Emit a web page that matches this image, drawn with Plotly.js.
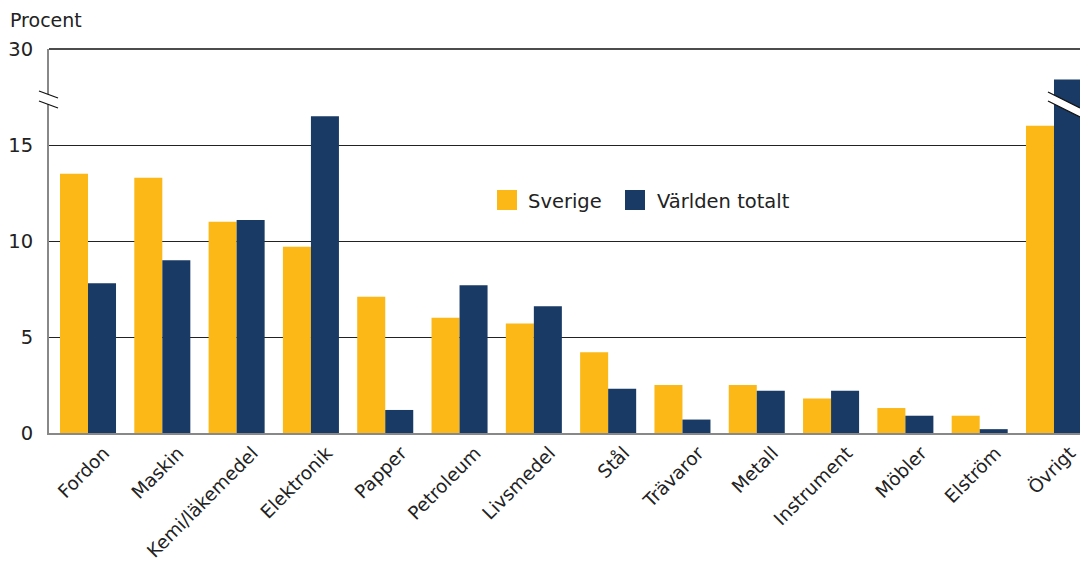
<!DOCTYPE html>
<html>
<head>
<meta charset="utf-8">
<script src="https://cdn.plot.ly/plotly-3.0.1.min.js"></script>
<style>
  html, body { margin: 0; padding: 0; background: #fff; }
  #chart { width: 1080px; height: 563px; }
</style>
</head>
<body>
<div id="chart"></div>
<script>
// Data (percent)
var categories = ["Fordon", "Maskin", "Kemi/läkemedel", "Elektronik", "Papper", "Petroleum",
                  "Livsmedel", "Stål", "Trävaror", "Metall", "Instrument", "Möbler", "Elström", "Övrigt"];
var sverige = [13.5, 13.3, 11.0, 9.7, 7.1, 6.0, 5.7, 4.2, 2.5, 2.5, 1.8, 1.3, 0.9, 16.0];
var varlden = [7.8, 9.0, 11.1, 16.5, 1.2, 7.7, 6.6, 2.3, 0.7, 2.2, 2.2, 0.9, 0.2, 23.1];
var seriesNames = ["Sverige", "Världen totalt"];
var yTickVals = [0, 5, 10, 15, 30];

// Broken axis: linear up to 17, compressed from 17 to 30
var BREAK = 17, TOP = 30, TOPDISP = 20;
function disp(v) { return v <= BREAK ? v : BREAK + (v - BREAK) * (TOPDISP - BREAK) / (TOP - BREAK); }

var FONT = "DejaVu Sans";
var COLORS = ["#FBB816", "#193A64"];
var W = 1080, H = 563, L = 49, R = 0, T = 49, B = 130;
function px(x) { return (x - L) / (W - L - R); }
function py(y) { return (H - B - y) / (H - T - B); }
function poly(pts) {
  return "M" + pts.map(function (p) { return px(p[0]) + "," + py(p[1]); }).join(" L") + " Z";
}
function line(x0, y0, x1, y1, color, width) {
  return { type: "line", xref: "paper", yref: "paper", x0: px(x0), y0: py(y0), x1: px(x1), y1: py(y1),
           line: { color: color || "#111", width: width || 1.3 }, layer: "above" };
}

var traces = [
  { type: "bar", name: seriesNames[0], x: categories, y: sverige.map(disp), customdata: sverige,
    marker: { color: COLORS[0] }, showlegend: false,
    hovertemplate: "%{x}: %{customdata}<extra>Sverige</extra>" },
  { type: "bar", name: seriesNames[1], x: categories, y: varlden.map(disp), customdata: varlden,
    marker: { color: COLORS[1] }, showlegend: false,
    hovertemplate: "%{x}: %{customdata}<extra>Världen totalt</extra>" }
];

var shapes = [
  // top gridline (30)
  { type: "line", xref: "paper", yref: "paper", x0: 0, x1: 1, y0: 1, y1: 1, line: { color: "#111", width: 1.3 }, layer: "below" },
  // axis break on left axis
  { type: "path", xref: "paper", yref: "paper", path: poly([[39, 91], [58, 98], [58, 108], [39, 101]]),
    fillcolor: "#fff", line: { width: 0 }, layer: "above" },
  line(39, 91, 58, 98), line(39, 101, 58, 108),
  // break on Övrigt bar
  { type: "path", xref: "paper", yref: "paper", path: poly([[1048, 92], [1080, 108], [1080, 117], [1048, 101]]),
    fillcolor: "#fff", line: { width: 0 }, layer: "above" },
  line(1048, 92, 1080, 108), line(1048, 101, 1080, 117),
  // legend swatches
  { type: "rect", xref: "paper", yref: "paper", x0: px(497), x1: px(517), y0: py(210), y1: py(190),
    fillcolor: COLORS[0], line: { width: 0 }, layer: "above" },
  { type: "rect", xref: "paper", yref: "paper", x0: px(625), x1: px(645), y0: py(210), y1: py(190),
    fillcolor: COLORS[1], line: { width: 0 }, layer: "above" }
];

var layout = {
  width: W, height: H,
  margin: { l: L, r: R, t: T, b: B, pad: 0 },
  paper_bgcolor: "#fff", plot_bgcolor: "#fff",
  font: { family: FONT, size: 19, color: "#222" },
  barmode: "group", bargap: 0.246, bargroupgap: 0,
  showlegend: false,
  xaxis: {
    type: "category", range: [-0.525, 13.35], tickangle: -45, showgrid: false, zeroline: false,
    showline: true, linecolor: "#888", linewidth: 2, ticks: "",
    tickfont: { family: FONT, size: 18.5, color: "#222" }, ticklabelshift: 16, ticklabelstandoff: 0
  },
  yaxis: {
    range: [0, 20], tickmode: "array", tickvals: yTickVals.map(disp), ticktext: yTickVals.map(String),
    showgrid: true, gridcolor: "#222", gridwidth: 1, zeroline: false,
    showline: true, linecolor: "#888", linewidth: 2, ticks: "", ticklabelstandoff: 10,
    tickfont: { family: FONT, size: 19.5, color: "#222" }
  },
  annotations: [
    { text: "Procent", xref: "paper", yref: "paper", x: px(8), y: py(20), xanchor: "left", yanchor: "middle",
      showarrow: false, font: { family: FONT, size: 19, color: "#222" } },
    { text: seriesNames[0], xref: "paper", yref: "paper", x: px(526), y: py(201), xanchor: "left", yanchor: "middle",
      showarrow: false, font: { family: FONT, size: 19.5, color: "#222" } },
    { text: seriesNames[1], xref: "paper", yref: "paper", x: px(655), y: py(201), xanchor: "left", yanchor: "middle",
      showarrow: false, font: { family: FONT, size: 19.5, color: "#222" } }
  ],
  shapes: shapes
};

Plotly.newPlot("chart", traces, layout, { displayModeBar: false, staticPlot: true });
</script>
</body>
</html>
